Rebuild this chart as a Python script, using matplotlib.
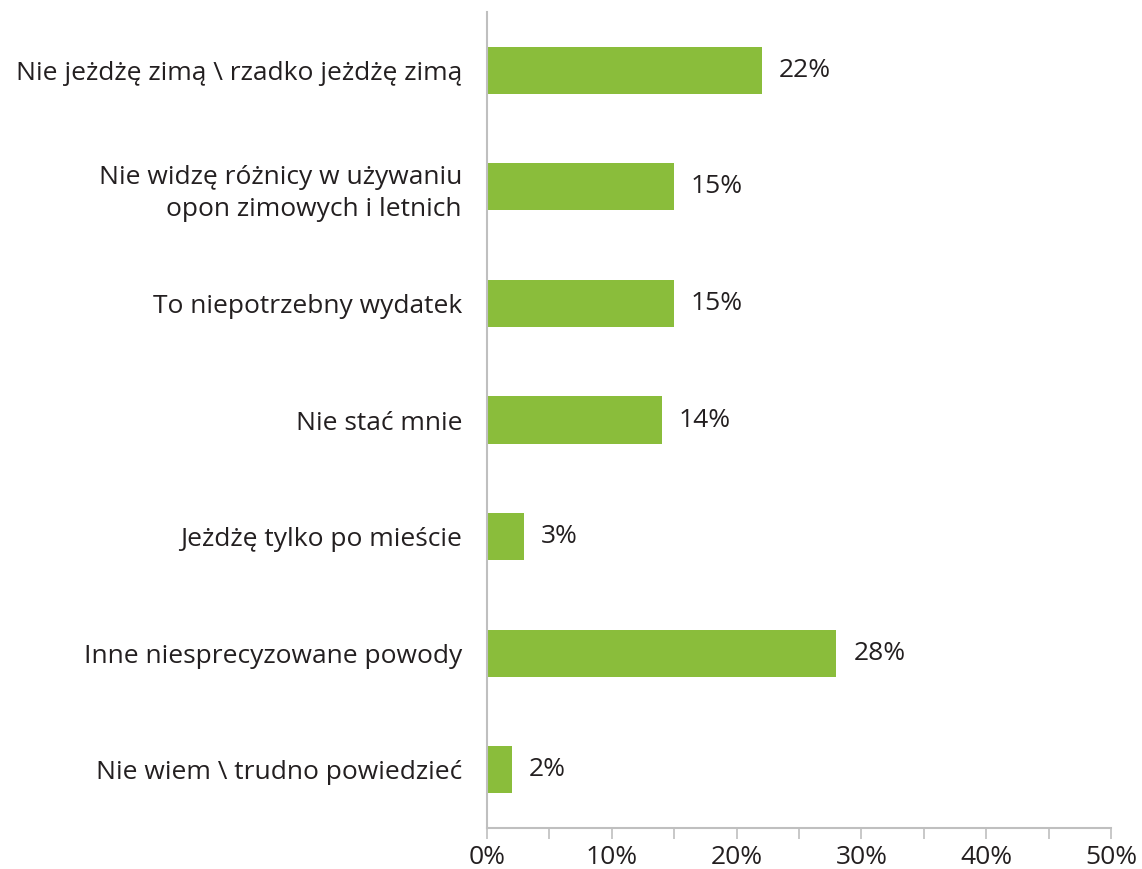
import numpy as np
import matplotlib.pyplot as plt

plt.rcParams['font.family'] = ['Open Sans', 'DejaVu Sans']

reasons = [
    "Nie jeżdżę zimą \\ rzadko jeżdżę zimą",
    "Nie widzę różnicy w używaniu\nopon zimowych i letnich",
    "To niepotrzebny wydatek",
    "Nie stać mnie",
    "Jeżdżę tylko po mieście",
    "Inne niesprecyzowane powody",
    "Nie wiem \\ trudno powiedzieć",
]
shares = [22, 15, 15, 14, 3, 28, 2]
tick_vals = [0, 10, 20, 30, 40, 50]

green = "#8abd3b"
grey = "#bfbfbf"
ink = "#231f20"

fig = plt.figure(figsize=(11.42, 8.69), dpi=100)
ax = fig.add_axes([487/1142, 1 - 828/869, 624/1142, 816/869])

y = np.arange(len(reasons))
ax.barh(y, shares, height=0.405, color=green)
for yi, v in zip(y, shares):
    ax.text(v + 1.35, yi, f"{v}%", va="center", ha="left", fontsize=19, color=ink)

ax.set_xlim(0, 50)
ax.set_ylim(len(reasons) - 0.5, -0.5)
ax.set_yticks(y)
ax.set_yticklabels(reasons, fontsize=19, color=ink, linespacing=1.35)
ax.set_xticks(tick_vals)
ax.set_xticklabels([f"{t}%" for t in tick_vals], fontsize=19, color=ink)
ax.set_xticks(np.arange(5, 50, 10), minor=True)

for s in ["top", "right"]:
    ax.spines[s].set_visible(False)
for s in ["left", "bottom"]:
    ax.spines[s].set_color(grey)
    ax.spines[s].set_linewidth(1.5)
ax.tick_params(axis="y", length=0, pad=18)
ax.tick_params(axis="x", which="both", direction="out", length=8, width=1.2, color=grey, pad=4)

fig.savefig("out.png", dpi=100)
